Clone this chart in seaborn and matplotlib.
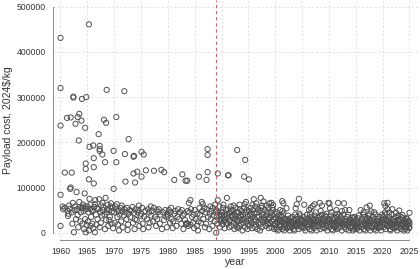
import pandas as pd
import numpy as np
import seaborn as sns
import matplotlib
matplotlib.use("Agg")
import matplotlib.pyplot as plt

# launch date (decimal year), payload cost in thousand 2024$/kg
pts_1960s = [
    (1960.0, 431), (1960.0, 320), (1960.0, 237), (1960.0, 84), (1960.0, 15),
    (1960.4, 58), (1960.5, 52), (1960.8, 55), (1960.8, 133),
    (1961.2, 254), (1961.9, 255), (1961.3, 48), (1961.5, 42), (1961.6, 60),
    (1961.9, 100), (1961.8, 97), (1961.4, 37), (1961.7, 53),
    (1962.1, 133), (1962.4, 301), (1962.4, 299), (1962.8, 241), (1962.5, 1),
    (1962.1, 45), (1962.3, 66), (1962.6, 50), (1962.9, 30), (1962.7, 58), (1962.2, 20),
    (1963.5, 263), (1963.2, 256), (1963.9, 248), (1963.4, 204), (1963.0, 90),
    (1963.1, 52), (1963.3, 12), (1963.6, 57), (1963.7, 25), (1963.8, 45),
    (1963.5, 68), (1963.2, 39), (1963.9, 55),
    (1964.0, 296), (1964.8, 300), (1964.6, 232), (1964.7, 153), (1964.7, 141),
    (1964.5, 87), (1964.1, 20), (1964.2, 55), (1964.3, 48), (1964.4, 8),
    (1964.5, 58), (1964.6, 30), (1964.7, 1), (1964.8, 52), (1964.9, 17), (1964.2, 62),
    (1965.3, 461), (1965.4, 190), (1965.3, 118), (1965.0, 58), (1965.1, 25),
    (1965.2, 45), (1965.3, 5), (1965.5, 53), (1965.6, 62), (1965.7, 35),
    (1965.8, 50), (1965.9, 20), (1965.4, 75), (1965.6, 15),
    (1966.1, 193), (1966.2, 165), (1966.2, 145), (1966.2, 109), (1966.4, 1),
    (1966.0, 48), (1966.3, 57), (1966.5, 72), (1966.6, 40), (1966.7, 18),
    (1966.8, 55), (1966.9, 30), (1966.4, 63), (1966.1, 10),
    (1967.1, 218), (1967.3, 192), (1967.3, 185), (1967.3, 181), (1967.8, 173),
    (1967.0, 52), (1967.2, 74), (1967.4, 45), (1967.5, 22), (1967.6, 60),
    (1967.7, 38), (1967.9, 50), (1967.3, 12), (1967.8, 66),
    (1968.1, 250), (1968.5, 243), (1968.6, 316), (1968.3, 156), (1968.0, 56),
    (1968.2, 40), (1968.4, 77), (1968.5, 28), (1968.7, 52), (1968.8, 62),
    (1968.9, 15), (1968.6, 45), (1968.3, 8),
    (1969.0, 50), (1969.2, 35), (1969.3, 58), (1969.5, 20), (1969.6, 47),
    (1969.7, 55), (1969.8, 10), (1969.9, 97), (1969.9, 181), (1969.4, 65), (1969.1, 28),
]

pts_1970s = [
    (1970.4, 256), (1970.4, 156), (1970.0, 45), (1970.1, 22), (1970.3, 52),
    (1970.5, 63), (1970.6, 35), (1970.8, 48), (1970.9, 5), (1970.7, 18), (1970.2, 58),
    (1971.9, 313), (1971.0, 40), (1971.2, 55), (1971.3, 25), (1971.5, 47),
    (1971.6, 12), (1971.8, 38), (1971.9, 52), (1971.4, 60),
    (1972.7, 207), (1972.0, 174), (1972.1, 113), (1972.1, 45), (1972.3, 30),
    (1972.4, 55), (1972.6, 18), (1972.7, 42), (1972.9, 50), (1972.5, 6),
    (1973.6, 168), (1973.6, 131), (1973.9, 111), (1973.7, 170), (1973.0, 35),
    (1973.2, 48), (1973.4, 57), (1973.5, 22), (1973.7, 44), (1973.9, 30), (1973.8, 8),
    (1974.3, 135), (1974.0, 52), (1974.2, 28), (1974.4, 45), (1974.6, 60),
    (1974.7, 15), (1974.9, 38), (1974.5, 50),
    (1975.1, 179), (1975.5, 173), (1975.1, 124), (1975.9, 138), (1975.0, 42),
    (1975.2, 55), (1975.3, 20), (1975.6, 35), (1975.8, 48), (1975.4, 8),
    (1976.1, 30), (1976.3, 52), (1976.5, 45), (1976.6, 22), (1976.8, 58),
    (1976.9, 38), (1976.4, 12),
    (1977.4, 137), (1977.0, 48), (1977.2, 25), (1977.4, 55), (1977.6, 35),
    (1977.8, 15), (1977.9, 50),
    (1978.8, 139), (1978.2, 46), (1978.0, 30), (1978.3, 52), (1978.5, 20),
    (1978.6, 40), (1978.9, 8),
    (1979.3, 134), (1979.1, 45), (1979.3, 28), (1979.5, 50), (1979.7, 35),
    (1979.8, 12), (1979.9, 42),
]

pts_1980s = [
    (1980.0, 38), (1980.2, 50), (1980.4, 22), (1980.5, 45), (1980.7, 30),
    (1980.9, 10), (1980.6, 55),
    (1981.2, 117), (1981.0, 25), (1981.2, 42), (1981.4, 48), (1981.6, 15),
    (1981.8, 35), (1981.9, 52),
    (1982.7, 129), (1982.1, 30), (1982.3, 45), (1982.5, 20), (1982.6, 50),
    (1982.8, 38), (1982.9, 8),
    (1983.3, 115), (1983.6, 115), (1983.9, 66), (1983.0, 42), (1983.2, 28),
    (1983.4, 19), (1983.5, 21), (1983.7, 48), (1983.8, 15), (1983.6, 20),
    (1984.2, 72), (1984.0, 45), (1984.2, 18), (1984.3, 52), (1984.5, 35),
    (1984.7, 22), (1984.8, 40), (1984.9, 10),
    (1985.8, 124), (1985.0, 50), (1985.2, 30), (1985.4, 15), (1985.5, 42),
    (1985.7, 25), (1985.9, 55), (1985.6, 5),
    (1986.3, 68), (1986.5, 63), (1986.0, 40), (1986.2, 22), (1986.4, 48),
    (1986.6, 30), (1986.8, 55), (1986.9, 12),
    (1987.4, 185), (1987.4, 172), (1987.4, 134), (1987.2, 117), (1987.0, 45),
    (1987.1, 20), (1987.3, 52), (1987.5, 35), (1987.7, 8), (1987.8, 42), (1987.9, 58),
    (1988.0, 30), (1988.1, 48), (1988.3, 15), (1988.4, 55), (1988.6, 38),
    (1988.7, 25), (1988.8, 62), (1988.9, 45),
    (1989.3, 131), (1989.3, 72), (1989.0, 0), (1989.0, 50), (1989.1, 35),
    (1989.2, 20), (1989.4, 45), (1989.5, 28), (1989.6, 58), (1989.7, 12),
    (1989.8, 40), (1989.9, 25), (1989.5, 38),
]

pts_1990s = [
    (1990.0, 30), (1990.1, 45), (1990.2, 18), (1990.3, 55), (1990.4, 25),
    (1990.5, 40), (1990.6, 10), (1990.7, 35), (1990.8, 50), (1990.9, 22),
    (1990.35, 62), (1990.65, 28), (1990.15, 38),
    (1991.2, 127), (1991.3, 127), (1991.0, 77), (1991.0, 40), (1991.1, 20),
    (1991.2, 52), (1991.3, 33), (1991.4, 12), (1991.5, 45), (1991.6, 28),
    (1991.7, 58), (1991.8, 15), (1991.9, 38), (1991.45, 25), (1991.75, 48),
    (1992.0, 35), (1992.1, 50), (1992.2, 22), (1992.3, 42), (1992.4, 8),
    (1992.5, 30), (1992.6, 55), (1992.7, 18), (1992.8, 45), (1992.9, 28),
    (1992.25, 60), (1992.55, 38), (1992.85, 12),
    (1992.9, 183), (1993.0, 25), (1993.1, 45), (1993.2, 32), (1993.3, 15),
    (1993.4, 52), (1993.5, 38), (1993.6, 20), (1993.7, 48), (1993.8, 28),
    (1993.9, 5), (1993.35, 62), (1993.65, 35), (1993.15, 10),
    (1994.4, 161), (1994.2, 124), (1994.3, 63), (1994.0, 40), (1994.1, 22),
    (1994.2, 55), (1994.3, 30), (1994.4, 12), (1994.5, 45), (1994.6, 25),
    (1994.7, 50), (1994.8, 35), (1994.9, 18), (1994.55, 68), (1994.85, 8),
    (1995.1, 118), (1995.0, 30), (1995.1, 48), (1995.2, 15), (1995.3, 38),
    (1995.4, 55), (1995.5, 22), (1995.6, 42), (1995.7, 10), (1995.8, 35),
    (1995.9, 50), (1995.45, 28), (1995.75, 62),
    (1996.0, 74), (1996.0, 25), (1996.1, 42), (1996.2, 30), (1996.3, 58),
    (1996.4, 18), (1996.5, 45), (1996.6, 35), (1996.7, 8), (1996.8, 52),
    (1996.9, 22), (1996.45, 65), (1996.25, 12),
    (1997.3, 77), (1997.8, 69), (1997.0, 35), (1997.1, 18), (1997.2, 48),
    (1997.3, 28), (1997.4, 55), (1997.5, 12), (1997.6, 40), (1997.7, 25),
    (1997.8, 45), (1997.9, 32), (1997.55, 60), (1997.15, 5),
    (1998.9, 65), (1998.0, 28), (1998.1, 50), (1998.2, 15), (1998.3, 38),
    (1998.4, 22), (1998.5, 45), (1998.6, 30), (1998.7, 55), (1998.8, 10),
    (1998.9, 35), (1998.35, 60), (1998.65, 18),
    (1999.3, 66), (1999.6, 61), (1999.0, 32), (1999.1, 20), (1999.2, 45),
    (1999.3, 12), (1999.4, 38), (1999.5, 25), (1999.6, 50), (1999.7, 30),
    (1999.8, 8), (1999.9, 42), (1999.45, 55), (1999.75, 18),
]

pts_2000s = [
    (2000.0, 20), (2000.1, 32), (2000.2, 12), (2000.3, 45), (2000.4, 25),
    (2000.5, 5), (2000.6, 38), (2000.7, 18), (2000.8, 28), (2000.9, 50),
    (2000.25, 8), (2000.55, 30), (2000.85, 15), (2000.45, 22),
    (2001.3, 70), (2001.5, 65), (2001.0, 28), (2001.1, 15), (2001.2, 35),
    (2001.3, 8), (2001.4, 22), (2001.5, 42), (2001.6, 12), (2001.7, 30),
    (2001.8, 18), (2001.9, 25), (2001.35, 48), (2001.65, 5), (2001.15, 38),
    (2002.1, 54), (2002.0, 18), (2002.1, 30), (2002.2, 10), (2002.3, 25),
    (2002.4, 38), (2002.5, 15), (2002.6, 22), (2002.7, 5), (2002.8, 32),
    (2002.9, 20), (2002.45, 28), (2002.75, 12),
    (2003.0, 25), (2003.1, 12), (2003.2, 35), (2003.3, 20), (2003.4, 8),
    (2003.5, 28), (2003.6, 18), (2003.7, 40), (2003.8, 15), (2003.9, 30),
    (2003.55, 5), (2003.25, 22), (2003.8, 54),
    (2004.4, 75), (2004.0, 63), (2004.0, 22), (2004.1, 35), (2004.2, 15),
    (2004.3, 28), (2004.4, 8), (2004.5, 42), (2004.6, 20), (2004.7, 30),
    (2004.8, 12), (2004.9, 25), (2004.65, 38), (2004.35, 18),
    (2005.4, 62), (2005.0, 15), (2005.1, 28), (2005.2, 20), (2005.3, 35),
    (2005.4, 10), (2005.5, 25), (2005.6, 5), (2005.7, 30), (2005.8, 18),
    (2005.9, 40), (2005.45, 22), (2005.15, 12),
    (2006.3, 50), (2006.6, 55), (2006.0, 25), (2006.1, 12), (2006.2, 32),
    (2006.3, 18), (2006.4, 28), (2006.5, 8), (2006.6, 22), (2006.7, 35),
    (2006.8, 15), (2006.9, 28), (2006.45, 42), (2006.75, 5),
    (2007.0, 59), (2007.3, 63), (2007.0, 20), (2007.1, 30), (2007.2, 10),
    (2007.3, 25), (2007.4, 38), (2007.5, 15), (2007.6, 28), (2007.7, 5),
    (2007.8, 22), (2007.9, 33), (2007.55, 45), (2007.25, 18),
    (2008.3, 66), (2008.7, 60), (2008.0, 28), (2008.1, 15), (2008.2, 35),
    (2008.3, 22), (2008.4, 8), (2008.5, 30), (2008.6, 18), (2008.7, 40),
    (2008.8, 12), (2008.9, 25), (2008.45, 48), (2008.75, 20),
    (2009.0, 18), (2009.1, 30), (2009.2, 10), (2009.3, 25), (2009.4, 35),
    (2009.5, 15), (2009.6, 28), (2009.7, 5), (2009.8, 22), (2009.9, 66),
    (2009.55, 42), (2009.25, 38),
]

pts_2010s = [
    (2010.1, 65), (2010.2, 54), (2010.0, 25), (2010.1, 12), (2010.2, 30),
    (2010.3, 18), (2010.4, 38), (2010.5, 8), (2010.6, 22), (2010.7, 32),
    (2010.8, 15), (2010.9, 28), (2010.45, 45), (2010.75, 5),
    (2011.4, 50), (2011.7, 66), (2011.9, 39), (2011.0, 20), (2011.1, 32),
    (2011.2, 12), (2011.3, 25), (2011.4, 8), (2011.5, 35), (2011.6, 18),
    (2011.7, 28), (2011.8, 10), (2011.9, 22), (2011.55, 42), (2011.25, 15),
    (2012.8, 65), (2012.0, 28), (2012.1, 15), (2012.2, 35), (2012.3, 22),
    (2012.4, 5), (2012.5, 30), (2012.6, 18), (2012.7, 40), (2012.8, 12),
    (2012.9, 25), (2012.45, 48), (2012.75, 20),
    (2013.0, 50), (2013.8, 50), (2013.0, 18), (2013.1, 30), (2013.2, 8),
    (2013.3, 25), (2013.4, 35), (2013.5, 15), (2013.6, 22), (2013.7, 5),
    (2013.8, 28), (2013.9, 12), (2013.55, 40), (2013.25, 20),
    (2014.5, 34), (2014.0, 22), (2014.1, 10), (2014.2, 28), (2014.3, 15),
    (2014.4, 32), (2014.5, 5), (2014.6, 25), (2014.7, 18), (2014.8, 35),
    (2014.9, 12), (2014.45, 20), (2014.75, 8),
    (2015.0, 15), (2015.1, 28), (2015.2, 8), (2015.3, 22), (2015.4, 32),
    (2015.5, 12), (2015.6, 25), (2015.7, 5), (2015.8, 18), (2015.9, 50),
    (2015.55, 38), (2015.25, 20),
    (2016.0, 25), (2016.1, 12), (2016.2, 30), (2016.3, 18), (2016.4, 40),
    (2016.5, 8), (2016.6, 22), (2016.7, 35), (2016.8, 15), (2016.9, 28),
    (2016.45, 45), (2016.75, 5),
    (2017.0, 56), (2017.6, 60), (2017.9, 47), (2017.0, 20), (2017.1, 32),
    (2017.2, 10), (2017.3, 25), (2017.4, 38), (2017.5, 15), (2017.6, 28),
    (2017.7, 5), (2017.8, 22), (2017.9, 12), (2017.55, 42), (2017.25, 18),
    (2018.0, 28), (2018.1, 15), (2018.2, 35), (2018.3, 22), (2018.4, 8),
    (2018.5, 30), (2018.6, 18), (2018.7, 40), (2018.8, 12), (2018.9, 25),
    (2018.45, 45), (2018.75, 5),
    (2019.0, 18), (2019.1, 30), (2019.2, 10), (2019.3, 25), (2019.4, 35),
    (2019.5, 15), (2019.6, 22), (2019.7, 5), (2019.8, 28), (2019.9, 40),
    (2019.55, 12), (2019.25, 20),
]

pts_2020s = [
    (2020.3, 65), (2020.9, 66), (2020.5, 59), (2020.9, 52), (2020.0, 22),
    (2020.1, 35), (2020.2, 12), (2020.3, 28), (2020.4, 18), (2020.5, 40),
    (2020.6, 8), (2020.7, 30), (2020.8, 15), (2020.9, 25), (2020.45, 45), (2020.75, 20),
    (2021.8, 52), (2021.0, 28), (2021.1, 15), (2021.2, 35), (2021.3, 22),
    (2021.4, 8), (2021.5, 30), (2021.6, 18), (2021.7, 40), (2021.8, 12),
    (2021.9, 25), (2021.45, 5), (2021.25, 45),
    (2022.5, 44), (2022.0, 18), (2022.1, 30), (2022.2, 10), (2022.3, 25),
    (2022.4, 35), (2022.5, 15), (2022.6, 22), (2022.7, 5), (2022.8, 28),
    (2022.9, 38), (2022.55, 12), (2022.25, 20),
    (2023.1, 49), (2023.7, 39), (2023.0, 25), (2023.1, 12), (2023.2, 30),
    (2023.3, 18), (2023.4, 8), (2023.5, 28), (2023.6, 15), (2023.7, 22),
    (2023.8, 32), (2023.9, 5), (2023.45, 35), (2023.75, 20),
    (2024.5, 32), (2024.0, 15), (2024.1, 28), (2024.2, 8), (2024.3, 22),
    (2024.4, 12), (2024.5, 20), (2024.6, 5), (2024.7, 25), (2024.8, 18),
    (2024.9, 10), (2024.45, 30),
    (2025.0, 44), (2025.0, 12), (2024.95, 25), (2025.0, 20),
]

cutoff_year = 1989
x_ticks = list(range(1960, 2030, 5))
y_ticks = [0, 100000, 200000, 300000, 400000, 500000]

rows = pts_1960s + pts_1970s + pts_1980s + pts_1990s + pts_2000s + pts_2010s + pts_2020s
df = pd.DataFrame(rows, columns=["year", "cost_k"])
df["cost"] = df["cost_k"] * 1000

sns.set_style("white")
plt.rcParams["font.family"] = ["Liberation Sans", "DejaVu Sans"]

fig = plt.figure(figsize=(4.2, 2.69), dpi=100)
ax = fig.add_axes([52.7 / 420, 29 / 269, 365.1 / 420, 240 / 269])

# light dotted grid, like R's grid()
for x in x_ticks:
    ax.axvline(x, color="#dcdcdc", lw=0.6, ls=(0, (2.5, 2.5)), zorder=0)
for y in y_ticks:
    ax.axhline(y, color="#dcdcdc", lw=0.6, ls=(0, (2.5, 2.5)), zorder=0)

sns.scatterplot(data=df, x="year", y="cost", ax=ax, marker="o", s=14,
                facecolors="none", edgecolor="#505050", linewidth=0.7)

ax.axvline(cutoff_year, color="#e25a5a", lw=0.8, ls=(0, (3, 2.5)), zorder=3)

ax.set_xlim(1958.55, 2026.55)
ax.set_ylim(-16150, 514823)
ax.set_xticks(x_ticks)
ax.set_yticks(y_ticks)
ax.set_yticklabels([str(v) for v in y_ticks])

for side in ["top", "right"]:
    ax.spines[side].set_visible(False)
ax.spines["left"].set_bounds(0, 500000)
ax.spines["bottom"].set_bounds(1960, 2025)
for side in ["left", "bottom"]:
    ax.spines[side].set_color("#8c8c8c")
    ax.spines[side].set_linewidth(0.7)

ax.tick_params(axis="both", length=3.6, width=0.7, color="#8c8c8c",
               labelsize=6.2, labelcolor="#333333", pad=1.5)

ax.set_xlabel("year", fontsize=7.5, color="#333333")
ax.set_ylabel("Payload cost, 2024$/kg", fontsize=7.5, color="#333333")
ax.xaxis.set_label_coords(0.5, -0.07)
ax.yaxis.set_label_coords(-0.108, 0.5)

fig.savefig("out.png", dpi=100)
